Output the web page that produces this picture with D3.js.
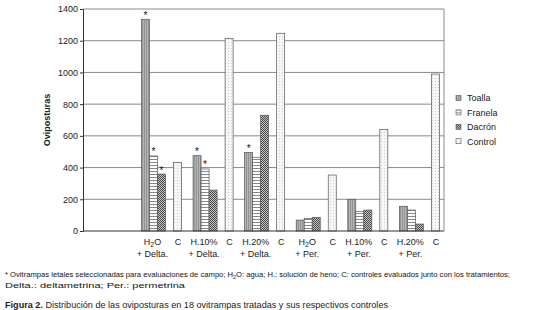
<!DOCTYPE html>
<html>
<head>
<meta charset="utf-8">
<script src="https://cdn.jsdelivr.net/npm/d3@7"></script>
<style>
  body { margin: 0; background: #fff; }
  svg { display: block; font-family: "Liberation Sans", Arial, sans-serif; }
</style>
</head>
<body>
<div id="chart"></div>
<script>
// Data
var groupTop = ["H2O", "H.10%", "H.20%", "H2O", "H.10%", "H.20%"];
var groupBottom = ["+ Delta.", "+ Delta.", "+ Delta.", "+ Per.", "+ Per.", "+ Per."];
var seriesNames = ["Toalla", "Franela", "Dacrón", "Control"];
var toalla = [1335, 475, 496, 69, 200, 156];
var franela = [473, 391, 465, 80, 122, 132];
var dacron = [359, 258, 730, 86, 132, 44];
var control = [433, 1215, 1247, 353, 641, 990];
var toallaStar = [1, 1, 1, 0, 0, 0];
var franelaStar = [1, 1, 0, 0, 0, 0];
var dacronStar = [1, 0, 0, 0, 0, 0];
var yTicks = [0, 200, 400, 600, 800, 1000, 1200, 1400];

var W = 537, H = 310;
var plotL = 83, plotR = 444, plotT = 9, plotB = 231;

var svg = d3.select("#chart").append("svg")
    .attr("width", W).attr("height", H);

// patterns for bar fills
var defs = svg.append("defs");
var p1 = defs.append("pattern").attr("id", "pToalla").attr("width", 2).attr("height", 2)
    .attr("patternUnits", "userSpaceOnUse");
p1.append("rect").attr("width", 2).attr("height", 2).attr("fill", "#b4b4b4");
p1.append("rect").attr("width", 1).attr("height", 2).attr("fill", "#939393");

var p2 = defs.append("pattern").attr("id", "pFranela").attr("width", 3).attr("height", 3)
    .attr("patternUnits", "userSpaceOnUse");
p2.append("rect").attr("width", 3).attr("height", 3).attr("fill", "#fff");
p2.append("rect").attr("width", 3).attr("height", 1).attr("fill", "#888");

var p3 = defs.append("pattern").attr("id", "pDacron").attr("width", 2).attr("height", 2)
    .attr("patternUnits", "userSpaceOnUse");
p3.append("rect").attr("width", 2).attr("height", 2).attr("fill", "#c8c8c8");
p3.append("rect").attr("width", 1).attr("height", 1).attr("fill", "#444");
p3.append("rect").attr("x", 1).attr("y", 1).attr("width", 1).attr("height", 1).attr("fill", "#444");

var p4 = defs.append("pattern").attr("id", "pControl").attr("width", 3).attr("height", 3)
    .attr("patternUnits", "userSpaceOnUse");
p4.append("rect").attr("width", 3).attr("height", 3).attr("fill", "#f7f7f7");
p4.append("rect").attr("width", 1).attr("height", 1).attr("fill", "#cfcfcf");

var fills = ["url(#pToalla)", "url(#pFranela)", "url(#pDacron)", "url(#pControl)"];

// scales
var groupIds = ["blank"].concat(groupTop.map(function (d, i) { return "g" + i; }));
var x0 = d3.scaleBand().domain(groupIds).range([plotL, plotR]).padding(0);
var x1 = d3.scaleBand().domain(["Toalla", "Franela", "Dacrón", "gap", "Control"])
    .range([0, x0.bandwidth()]).paddingInner(0).paddingOuter(0.72).align(0.6);
var y = d3.scaleLinear().domain([0, 1400]).range([plotB, plotT]);

// gridlines
svg.append("g").selectAll("line")
    .data(yTicks.filter(function (d) { return d > 0; }))
    .enter().append("line")
    .attr("x1", plotL).attr("x2", plotR)
    .attr("y1", function (d) { return y(d); })
    .attr("y2", function (d) { return y(d); })
    .attr("stroke", "#8a8a8a").attr("stroke-width", 1);
svg.append("line")
    .attr("x1", plotR).attr("x2", plotR).attr("y1", y(1400)).attr("y2", y(0))
    .attr("stroke", "#8a8a8a");

// bars
var values = [toalla, franela, dacron, control];
var stars = [toallaStar, franelaStar, dacronStar];
var slotName = ["Toalla", "Franela", "Dacrón", "Control"];
var bars = [];
values.forEach(function (arr, s) {
    arr.forEach(function (v, i) {
        bars.push({ s: s, g: "g" + i, v: v, star: s < 3 ? stars[s][i] : 0 });
    });
});

svg.append("g").selectAll("rect")
    .data(bars)
    .enter().append("rect")
    .attr("x", function (d) { return x0(d.g) + x1(slotName[d.s]); })
    .attr("y", function (d) { return y(d.v); })
    .attr("width", x1.bandwidth())
    .attr("height", function (d) { return y(0) - y(d.v); })
    .attr("fill", function (d) { return fills[d.s]; })
    .attr("stroke", "#555").attr("stroke-width", 0.7);

// asterisks
svg.append("g").selectAll("text")
    .data(bars.filter(function (d) { return d.star; }))
    .enter().append("text")
    .attr("x", function (d) { return x0(d.g) + x1(slotName[d.s]) + x1.bandwidth() / 2; })
    .attr("y", function (d) { return y(d.v) - 0.5; })
    .attr("text-anchor", "middle")
    .attr("font-size", "10px")
    .attr("fill", "#111")
    .text("*");

// y axis
var yAxisCall = d3.axisLeft(y).tickValues(yTicks).tickFormat(d3.format("d"))
    .tickSize(3).tickPadding(2);
var yAxis = svg.append("g")
    .attr("transform", "translate(" + plotL + ",0)")
    .call(yAxisCall);
yAxis.select(".domain").attr("stroke", "#333");
yAxis.selectAll(".tick line").attr("stroke", "#333");
yAxis.selectAll("text").attr("font-size", "9px").attr("fill", "#222")
    .attr("font-family", "Liberation Sans, Arial, sans-serif");

// x axis line
svg.append("line")
    .attr("x1", plotL).attr("x2", plotR).attr("y1", y(0)).attr("y2", y(0))
    .attr("stroke", "#333");

svg.append("text")
    .attr("transform", "translate(50,120) rotate(-90)")
    .attr("text-anchor", "middle")
    .attr("font-size", "9px").attr("font-weight", "bold").attr("fill", "#222")
    .text("Oviposturas");

// x labels
var labels = svg.append("g").attr("font-size", "9px").attr("fill", "#222");
groupTop.forEach(function (lab, i) {
    var g = "g" + i;
    var cx = x0(g) + x1("Franela") + x1.bandwidth() / 2 - 1;
    var t = labels.append("text").attr("x", cx).attr("y", 245).attr("text-anchor", "middle");
    if (lab === "H2O") {
        t.append("tspan").text("H");
        t.append("tspan").attr("dy", 2).attr("font-size", "7px").text("2");
        t.append("tspan").attr("dy", -2).text("O");
    } else {
        t.text(lab);
    }
    labels.append("text").attr("x", cx).attr("y", 257).attr("text-anchor", "middle")
        .text(groupBottom[i]);
    labels.append("text")
        .attr("x", x0(g) + x1("Control") + x1.bandwidth() / 2 + 0.5)
        .attr("y", 245).attr("text-anchor", "middle").text("C");
});

// legend
var legend = svg.append("g").attr("transform", "translate(456,98)");
seriesNames.forEach(function (name, i) {
    var row = legend.append("g").attr("transform", "translate(0," + (i * 14.4) + ")");
    row.append("rect").attr("x", 0).attr("y", -2.5).attr("width", 5).attr("height", 5)
        .attr("fill", fills[i]).attr("stroke", "#555").attr("stroke-width", 0.6);
    row.append("text").attr("x", 11).attr("y", 3.3)
        .attr("font-size", "9px").attr("fill", "#222").text(name);
});

// footnote
var foot1 = svg.append("text").attr("x", 5).attr("y", 277)
    .attr("font-size", "7.2px").attr("fill", "#111")
    .attr("textLength", 505).attr("lengthAdjust", "spacingAndGlyphs");
foot1.append("tspan").text("* Ovitrampas letales seleccionadas para evaluaciones de campo; H");
foot1.append("tspan").attr("dy", 1.5).attr("font-size", "5px").text("2");
foot1.append("tspan").attr("dy", -1.5).text("O: agua; H.: solución de heno; C: controles evaluados junto con los tratamientos;");
svg.append("text").attr("x", 5).attr("y", 287.5)
    .attr("font-size", "7.2px").attr("fill", "#111")
    .attr("textLength", 180).attr("lengthAdjust", "spacingAndGlyphs")
    .text("Delta.: deltametrina; Per.: permetrina");

// caption
var cap = svg.append("text").attr("x", 5).attr("y", 307.5)
    .attr("font-size", "9px").attr("fill", "#222")
    .attr("textLength", 383).attr("lengthAdjust", "spacingAndGlyphs");
cap.append("tspan").attr("font-weight", "bold").text("Figura 2.");
cap.append("tspan").text(" Distribución de las oviposturas en 18 ovitrampas tratadas y sus respectivos controles");
</script>
</body>
</html>
